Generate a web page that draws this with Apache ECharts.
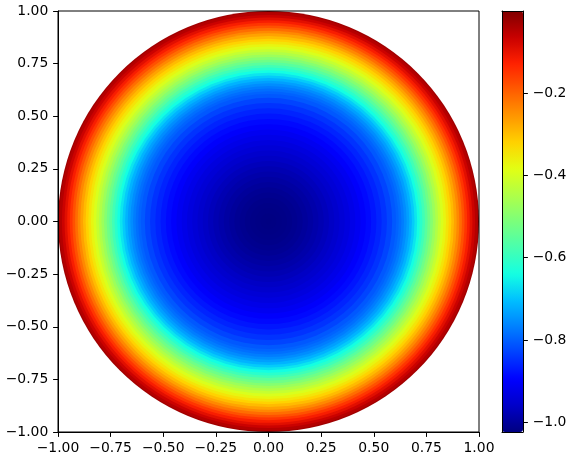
<!DOCTYPE html>
<html>
<head>
<meta charset="utf-8">
<script src="https://cdn.jsdelivr.net/npm/echarts@6/dist/echarts.min.js"></script>
<style>html,body{margin:0;padding:0;background:#fff}#c{width:570px;height:463px}</style>
</head>
<body>
<div id="c"></div>
<script>
// Radial profile of the field (radius -> value)
const radii = [0.000,0.025,0.050,0.075,0.100,0.125,0.150,0.175,0.200,0.225,0.250,0.275,0.300,0.325,0.350,0.375,0.400,0.425,0.450,0.475,0.500,0.525,0.550,0.575,
  0.6000,0.6125,0.6250,0.6375,0.6500,0.6625,0.6750,0.6875,0.7000,0.7125,0.7250,0.7375,0.7500,0.7625,0.7750,0.7875,
  0.8000,0.8125,0.8250,0.8375,0.8500,0.8625,0.8750,0.8875,0.9000,0.9125,0.9250,0.9375,0.9500,0.9625,0.9750,0.9875,1.0000];
const values = [-1.022,-1.021,-1.020,-1.018,-1.015,-1.011,-1.006,-1.000,-0.994,-0.987,-0.980,-0.972,-0.963,-0.954,-0.944,-0.934,-0.923,-0.912,-0.900,-0.888,-0.875,-0.861,-0.846,-0.828,
  -0.808,-0.797,-0.785,-0.771,-0.755,-0.737,-0.716,-0.692,-0.666,-0.640,-0.613,-0.585,-0.555,-0.527,-0.500,-0.472,
  -0.445,-0.420,-0.395,-0.370,-0.345,-0.320,-0.295,-0.268,-0.240,-0.210,-0.180,-0.150,-0.120,-0.093,-0.068,-0.046,-0.028];
const axisTicks = [-1.00,-0.75,-0.50,-0.25,0.00,0.25,0.50,0.75,1.00];
const colorbarTicks = [-1.0,-0.8,-0.6,-0.4,-0.2];
const colorMin = -1.024, colorMax = 0.0;
const jet = ['#000080','#0000c8','#0000ff','#0040ff','#0080ff','#00bfff','#14ffe2','#48ffaf','#7bff7b','#afff48','#e2ff14','#ffd200','#ff9700','#ff5c00','#ff2100','#c80000','#800000'];

// Each profile sample becomes a disk out to the midpoint with the next sample; drawn outermost first.
const rings = [];
for (let i = radii.length - 1; i >= 0; i--) {
  const rOut = i === radii.length - 1 ? radii[i] : (radii[i] + radii[i + 1]) / 2;
  rings.push([0, rOut, values[i]]);
}

const fmt = (d) => (v) => (v < -1e-9 ? '\u2212' : '') + Math.abs(v).toFixed(d);
const font = {fontFamily: 'DejaVu Sans', fontSize: 13.9, color: '#000'};

const chart = echarts.init(document.getElementById('c'), null, {renderer: 'canvas'});
chart.setOption({
  animation: false,
  backgroundColor: '#fff',
  grid: [
    {left: 58, top: 11, width: 421, height: 421, show: true, borderColor: '#000', borderWidth: 1, backgroundColor: 'transparent', z: 5},
    {left: 502, top: 11, width: 21, height: 421, show: false}
  ],
  xAxis: [
    {gridIndex: 0, type: 'value', min: -1, max: 1, interval: 0.25,
     axisLine: {show: true, onZero: false, lineStyle: {color: '#000', width: 1}},
     axisTick: {show: true, inside: false, length: 4.9, lineStyle: {color: '#000'}},
     axisLabel: Object.assign({margin: 9.7, formatter: fmt(2)}, font),
     splitLine: {show: false}, z: 5},
    {gridIndex: 1, type: 'value', min: 0, max: 1, position: 'bottom',
     axisLine: {show: true, onZero: false, lineStyle: {color: '#000', width: 1}},
     axisTick: {show: false}, axisLabel: {show: false}, splitLine: {show: false}, z: 10},
    {gridIndex: 1, type: 'value', min: 0, max: 1, position: 'top',
     axisLine: {show: true, onZero: false, lineStyle: {color: '#000', width: 1}},
     axisTick: {show: false}, axisLabel: {show: false}, splitLine: {show: false}, z: 10}
  ],
  yAxis: [
    {gridIndex: 0, type: 'value', min: -1, max: 1, interval: 0.25,
     axisLine: {show: true, onZero: false, lineStyle: {color: '#000', width: 1}},
     axisTick: {show: true, inside: false, length: 4.9, lineStyle: {color: '#000'}},
     axisLabel: Object.assign({margin: 9.7, formatter: fmt(2)}, font),
     splitLine: {show: false}, z: 5},
    {gridIndex: 1, type: 'value', min: colorMin, max: colorMax, position: 'right',
     axisLine: {show: true, onZero: false, lineStyle: {color: '#000', width: 1}},
     axisTick: {show: true, inside: false, length: 4.9, lineStyle: {color: '#000'}, customValues: colorbarTicks},
     axisLabel: Object.assign({margin: 9.7, formatter: fmt(1), customValues: colorbarTicks}, font),
     splitLine: {show: false}, z: 10},
    {gridIndex: 1, type: 'value', min: colorMin, max: colorMax, position: 'left',
     axisLine: {show: true, onZero: false, lineStyle: {color: '#000', width: 1}},
     axisTick: {show: false}, axisLabel: {show: false}, splitLine: {show: false}, z: 10}
  ],
  visualMap: {
    type: 'continuous', min: colorMin, max: colorMax, dimension: 2, seriesIndex: 0,
    orient: 'vertical', left: 502, top: 11, itemWidth: 21, itemHeight: 421, padding: 0,
    calculable: false, hoverLink: false, text: null, showLabel: false,
    inRange: {color: jet}, z: 1
  },
  series: [{
    type: 'custom', xAxisIndex: 0, yAxisIndex: 0, data: rings, clip: true,
    encode: {x: 0, y: 1},
    renderItem: function (params, api) {
      const c = api.coord([0, 0]);
      const r = api.size([api.value(1), 0])[0];
      return {type: 'sector', shape: {cx: c[0], cy: c[1], r0: 0, r: r, startAngle: 0, endAngle: Math.PI * 2},
              style: {fill: api.visual('color')}};
    }
  }]
});
</script>
</body>
</html>
